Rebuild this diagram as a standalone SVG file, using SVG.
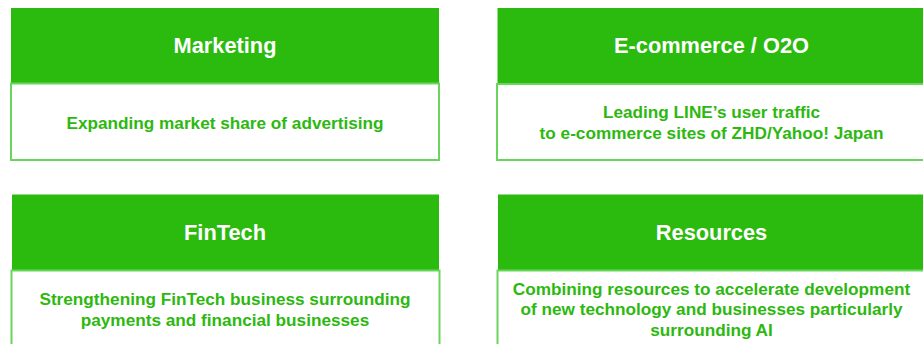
<svg xmlns="http://www.w3.org/2000/svg" width="923" height="344" viewBox="0 0 923 344">
  <style>
    .head { fill: #2bba0e; }
    .body { fill: #ffffff; stroke: #6ad55c; stroke-width: 2; }
    .title { font-family: "Liberation Sans", Arial, sans-serif; font-weight: bold; font-size: 21.8px; fill: #ffffff; text-anchor: middle; }
    .desc { font-family: "Liberation Sans", Arial, sans-serif; font-weight: bold; font-size: 17.2px; fill: #2db810; text-anchor: middle; }
  </style>
  <rect width="923" height="344" fill="#ffffff"/>

  <g id="marketing">
    <rect class="head" x="11" y="8" width="428" height="75"/>
    <rect class="body" x="11" y="83.5" width="428" height="76.5"/>
    <text class="title" x="225" y="53">Marketing</text>
    <text class="desc" x="225" y="129">Expanding market share of advertising</text>
  </g>

  <g id="ecommerce">
    <rect class="head" x="497.5" y="8" width="430" height="75.5"/>
    <rect class="body" x="497" y="84" width="432" height="76"/>
    <text class="title" x="711.5" y="53">E-commerce / O2O</text>
    <text class="desc" x="711.5" y="118">Leading LINE’s user traffic</text>
    <text class="desc" x="711.5" y="138.5">to e-commerce sites of ZHD/Yahoo! Japan</text>
  </g>

  <g id="fintech">
    <rect class="head" x="12" y="194.5" width="427" height="76"/>
    <rect class="body" x="11.5" y="270.5" width="428" height="80"/>
    <text class="title" x="225" y="240">FinTech</text>
    <text class="desc" x="225" y="305">Strengthening FinTech business surrounding</text>
    <text class="desc" x="225" y="326">payments and financial businesses</text>
  </g>

  <g id="resources">
    <rect class="head" x="498" y="194.5" width="430" height="76"/>
    <rect class="body" x="497.5" y="270.5" width="432" height="80"/>
    <text class="title" x="711.5" y="239.5">Resources</text>
    <text class="desc" x="711.5" y="295">Combining resources to accelerate development</text>
    <text class="desc" x="711.5" y="315">of new technology and businesses particularly</text>
    <text class="desc" x="711.5" y="335.5">surrounding AI</text>
  </g>

  <g id="connectors"></g>
</svg>
